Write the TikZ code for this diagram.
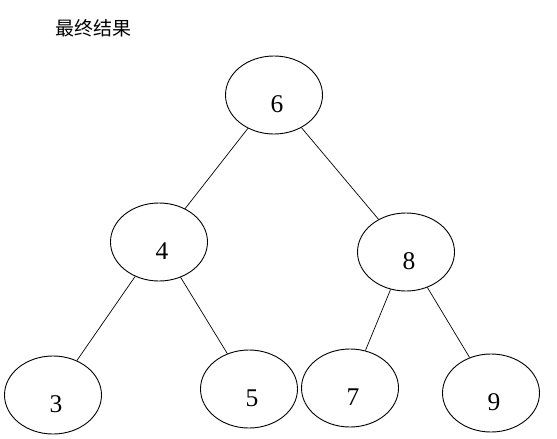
\documentclass[tikz,border=0pt]{standalone}
\usepackage{fontspec}
\setmainfont{Liberation Serif}
\newfontfamily\cjk{Noto Sans CJK SC}
\usetikzlibrary{shapes.geometric}
\begin{document}
\begin{tikzpicture}[x=1pt,y=-1pt,
    heapnode/.style={draw,ellipse,line width=0.9pt,minimum width=97pt,minimum height=78pt,
      inner sep=0pt,text height=34pt,text depth=0pt,font=\fontsize{25.5}{25.5}\selectfont},
    titletext/.style={font=\cjk\fontsize{19}{19}\selectfont}]
      \useasboundingbox (0,0) rectangle (557,439);
      \node[titletext] (title) at (93.5,28.5) {最终结果};
      \draw
        (274,95) node[heapnode] (6){\hspace*{6pt}6}
        (159,242) node[heapnode] (4){\hspace*{6pt}4}
        (406,252) node[heapnode] (8){\hspace*{6pt}8}
        (53,395) node[heapnode] (3){\hspace*{6pt}3}
        (249,389) node[heapnode] (5){\hspace*{6pt}5}
        (350,388) node[heapnode] (7){\hspace*{6pt}7}
        (491,393) node[heapnode] (9){\hspace*{6pt}9};
      \begin{scope}[-,line width=0.7pt]
        \draw (6) to (4);
        \draw (6) to (8);
        \draw (4) to (3);
        \draw (4) to (5);
        \draw (8) to (7);
        \draw (8) to (9);
      \end{scope}
    \end{tikzpicture}
\end{document}
